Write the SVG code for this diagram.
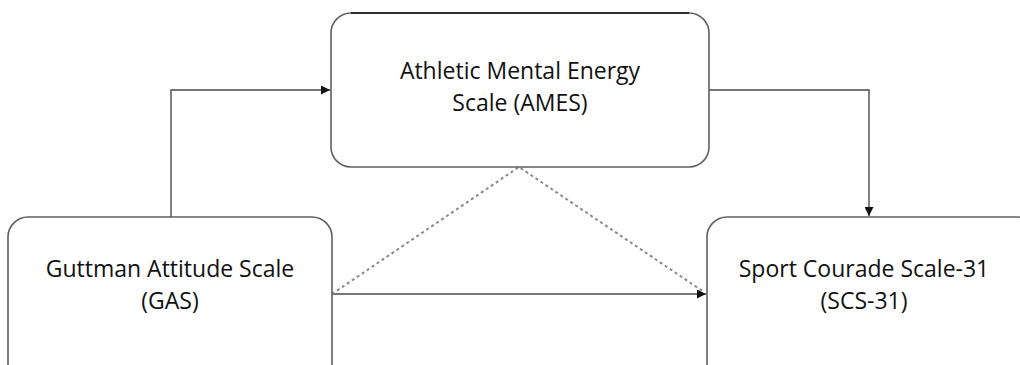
<svg xmlns="http://www.w3.org/2000/svg" width="1020" height="365" viewBox="0 0 1020 365">
<defs>
<style>
.box{fill:#fff;stroke:#5f5f5f;stroke-width:1.6}
.lbl{font-family:"Open Sans","Noto Sans","Liberation Sans",sans-serif;font-size:23px;fill:#111;text-anchor:middle}
.solid{fill:none;stroke:#4a4a4a;stroke-width:1.4}
.dot{fill:none;stroke:#8a8a8a;stroke-width:2;stroke-dasharray:3 3}
</style>
<marker id="arr" viewBox="0 0 10 10" refX="10" refY="5" markerWidth="9" markerHeight="9" markerUnits="userSpaceOnUse" orient="auto">
<path d="M0,0 L10,5 L0,10 Z" fill="#111"/>
</marker>
</defs>
<rect width="1020" height="365" fill="#fff"/>
<g id="connectors">
<path class="solid" d="M171,217 V90 H330" marker-end="url(#arr)"/>
<path class="solid" d="M709,90 H869 V216" marker-end="url(#arr)"/>
<path class="solid" d="M332,294 H706" marker-end="url(#arr)"/>
<path class="dot" d="M332,294 L519,167 L704,292"/>
</g>
<g id="ames">
<rect class="box" x="331" y="13" width="378" height="154" rx="20"/>
<line x1="351" y1="13" x2="689" y2="13" stroke="#111" stroke-width="1.6"/>
<text class="lbl" x="520" y="79">Athletic Mental Energy</text>
<text class="lbl" x="520" y="111">Scale (AMES)</text>
</g>
<g id="gas">
<rect class="box" x="8" y="217" width="324" height="170" rx="20"/>
<text class="lbl" x="170" y="277">Guttman Attitude Scale</text>
<text class="lbl" x="170" y="309">(GAS)</text>
</g>
<g id="scs">
<rect class="box" x="707" y="217" width="330" height="170" rx="20"/>
<text class="lbl" x="864" y="277">Sport Courade Scale-31</text>
<text class="lbl" x="864" y="309">(SCS-31)</text>
</g>
</svg>
